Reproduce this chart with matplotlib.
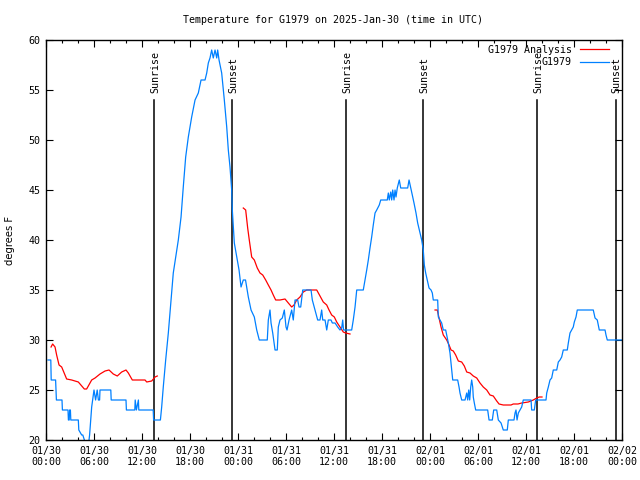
import numpy as np
import matplotlib
matplotlib.use("Agg")
import matplotlib.pyplot as plt

plt.rcParams['font.family'] = ['DejaVu Sans Mono']

# Observed series G1979 (hours since 2025-01-30 00:00 UTC, deg F)
obs_hours = [0.25, 0.6, 0.65, 1.2, 1.3, 2.0, 2.05, 2.75, 2.8, 2.9, 2.95, 3.05, 3.1, 4.04, 4.1, 4.46, 4.6, 4.8,
             5.0, 5.3, 5.45, 5.71, 6.0, 6.2, 6.4, 6.55, 6.7, 6.75, 8.1, 8.15, 10.0, 10.05, 11.1, 11.15, 11.3,
             11.55, 11.6, 13.4, 13.45, 14.3,
             14.46, 14.66, 14.96, 15.29, 15.63, 15.91, 16.21, 16.54, 16.88, 17.16, 17.46, 17.79, 18.21, 18.63,
             19.04, 19.38, 19.88, 20.09, 20.29, 20.5, 20.71, 20.91, 21.13, 21.34, 21.46, 21.63, 21.96, 22.29,
             22.59, 22.79, 23.0, 23.21, 23.29, 23.54, 23.84, 24.13, 24.38, 24.66, 24.94, 25.29, 25.63, 26.04,
             26.34, 26.66, 27.66, 27.79, 28.0, 28.13, 28.34, 28.63, 28.91, 29.04, 29.25, 29.54, 29.79, 30.0,
             30.13, 30.38, 30.71, 30.91, 31.13, 31.46, 31.63, 31.84, 32.09, 33.13, 33.29, 33.63, 33.96, 34.25,
             34.46, 34.59, 34.88, 35.09, 35.29, 35.63, 35.79, 36.13, 36.46, 36.75, 36.96, 37.09, 37.19, 37.5,
             38.21, 38.41, 38.63, 38.84, 39.66, 39.88, 40.09, 40.29, 40.5, 40.71, 40.91, 41.13, 41.34, 41.66,
             41.84, 42.66, 42.79, 42.91, 43.09, 43.21, 43.34, 43.5, 43.63, 43.75, 43.91, 44.16, 44.34, 45.21,
             45.38, 45.59, 45.84, 46.0, 46.25, 46.46, 46.75, 46.96, 47.16, 47.29, 47.46, 47.71, 47.88, 48.13,
             48.29, 48.41, 48.96, 49.04, 49.25, 49.46, 49.66, 49.96, 50.09, 50.29, 50.5, 50.63, 50.71, 50.84,
             51.46, 51.63, 51.75, 51.96, 52.38, 52.59, 52.71, 52.84, 52.96, 53.09, 53.21, 53.34, 53.41, 53.54,
             53.71, 55.21, 55.38, 55.79, 55.96, 56.34, 56.54, 56.88, 57.16, 57.66, 57.79, 58.5, 58.63, 58.75,
             58.88, 59.04, 59.25, 59.46, 59.66, 60.63, 60.71, 61.04, 61.21, 62.5, 62.59, 62.79, 63.0, 63.21,
             63.41, 63.84, 64.04, 64.25, 64.46, 64.66, 65.16, 65.29, 65.5, 65.71, 65.91, 66.04, 66.25, 66.41,
             68.41, 68.63, 68.91, 69.16, 69.88, 70.0, 70.16, 72.0]
obs_temps = [28, 28, 26, 26, 24, 24, 23, 23, 22, 22, 23, 23, 22, 22, 21, 20.5, 20.5, 20,
             19.5, 19.5, 20.5, 23.3, 25, 24, 25, 24, 24, 25, 25, 24, 24, 23, 23, 24, 23,
             24, 23, 23, 22, 22,
             23.3, 25.3, 28, 30.7, 34, 36.7, 38.3, 40, 42.3, 45.3, 48.3, 50.3, 52.3, 54,
             54.7, 56, 56, 56.7, 57.7, 58.2, 59, 58.2, 59, 58.2, 59, 58, 56.7, 54,
             51.3, 49, 47.3, 45, 43, 39.7, 38.3, 37, 35.3, 36, 36, 34.3, 33, 32.3,
             31, 30, 30, 32, 33, 31.7, 30.7, 29, 29, 31.3, 32, 32.2, 33, 31.3,
             31, 32, 33, 32, 34, 34, 33.3, 33.3, 35, 35, 34, 33, 32, 32,
             33, 32, 32, 31, 32, 32, 31.7, 31.7, 31.3, 31, 31.2, 32, 31, 31,
             31, 32, 33.3, 35, 35, 36, 37, 38, 39.2, 40.3, 41.5, 42.7, 43, 43.5,
             44, 44, 44.7, 44, 44.8, 44, 45, 44, 45, 44.3, 45.2, 46, 45.2, 45.2,
             46, 45.2, 44.3, 43.7, 42.7, 41.7, 40.7, 40, 39, 37.5, 36.7, 35.8, 35.2, 35,
             34.7, 34, 34, 32.3, 32, 31.7, 31, 31, 30.5, 29.7, 28.7, 27.7, 27, 26,
             26, 25.3, 24.7, 24, 24, 24.7, 24, 25, 24, 25.3, 26, 25.3, 24.3, 23.7,
             23, 23, 22, 22, 23, 23, 22, 21.7, 21, 21, 22, 22, 22.7, 23,
             22, 22.7, 23, 23.3, 24, 24, 23, 23, 24, 24, 24.7, 25.3, 26, 26.2,
             27, 27, 27.8, 28, 28.3, 29, 29, 29.7, 30.7, 31, 31.3, 31.8, 32.3, 33,
             33, 32.2, 32, 31, 31, 30.5, 30, 30]

# Analysis series (three separate segments)
ana1_hours = [0.63, 0.83, 1.13, 1.33, 1.63, 1.96, 2.58, 3.21, 4.04, 4.79, 5.08, 5.71, 6.13, 6.75, 7.38,
              7.88, 8.41, 8.91, 9.46, 10.0, 10.29, 10.79, 12.38, 12.59, 13.21, 13.63, 13.91]
ana1_temps = [29.3, 29.6, 29.3, 28.5, 27.5, 27.3, 26.1, 26.0, 25.8, 25.1, 25.1, 26.0, 26.2, 26.6, 26.9,
              27.0, 26.6, 26.4, 26.8, 27.0, 26.7, 26.0, 26.0, 25.8, 25.9, 26.3, 26.4]
ana2_hours = [24.66, 24.96, 25.21, 25.41, 25.71, 26.04, 26.41, 26.75, 27.09, 27.46, 27.79, 28.13, 28.41,
              28.71, 29.25, 29.88, 30.29, 30.71, 31.0, 31.34, 31.75, 32.16, 32.59, 33.84, 34.25, 34.66,
              35.09, 35.38, 35.71, 36.04, 36.34, 36.75, 37.16, 37.46, 38.0]
ana2_temps = [43.2, 43.0, 41.2, 40.0, 38.3, 38.0, 37.2, 36.7, 36.5, 36.0, 35.5, 35.0, 34.5,
              34.0, 34.0, 34.1, 33.7, 33.3, 33.5, 34.0, 34.3, 34.8, 35.0, 35.0, 34.4, 33.8,
              33.5, 33.0, 32.5, 32.3, 31.8, 31.3, 30.8, 30.7, 30.6]
ana3_hours = [48.63, 48.91, 49.13, 49.38, 49.66, 50.09, 50.38, 50.63, 50.91, 51.21, 51.54, 51.96, 52.29,
              52.59, 53.0, 53.41, 53.84, 54.25, 54.66, 55.09, 55.5, 55.91, 56.34, 56.63, 57.16, 58.13,
              58.41, 59.0, 59.46, 60.29, 60.91, 61.34, 61.66, 62.0]
ana3_temps = [33.0, 33.0, 32.2, 31.3, 30.5, 30.0, 29.5, 29.0, 28.9, 28.5, 27.9, 27.8, 27.4,
              26.8, 26.7, 26.4, 26.2, 25.7, 25.3, 25.0, 24.5, 24.4, 23.9, 23.6, 23.5, 23.5,
              23.6, 23.6, 23.7, 23.8, 24.0, 24.2, 24.3, 24.3]

sunrise_hours = [13.55, 37.5, 61.4]
sunset_hours = [23.3, 47.15, 71.2]

xtick_hours = [0, 6, 12, 18, 24, 30, 36, 42, 48, 54, 60, 66, 72]
xtick_labels = ["01/30\n00:00", "01/30\n06:00", "01/30\n12:00", "01/30\n18:00",
                "01/31\n00:00", "01/31\n06:00", "01/31\n12:00", "01/31\n18:00",
                "02/01\n00:00", "02/01\n06:00", "02/01\n12:00", "02/01\n18:00",
                "02/02\n00:00"]
ytick_vals = [20, 25, 30, 35, 40, 45, 50, 55, 60]

title = "Temperature for G1979 on 2025-Jan-30 (time in UTC)"

fig = plt.figure(figsize=(6.4, 4.8), dpi=100)
ax = fig.add_axes([46/640, 1 - 440/480, 576/640, 400/480])

RED = '#ff0000'
BLUE = '#0080ff'
FS = 7.2

ax.plot(ana1_hours, ana1_temps, color=RED, lw=0.9, label='G1979 Analysis')
ax.plot(ana2_hours, ana2_temps, color=RED, lw=0.9)
ax.plot(ana3_hours, ana3_temps, color=RED, lw=0.9)
ax.plot(obs_hours, obs_temps, color=BLUE, lw=0.9, label='G1979')

for h in sunrise_hours:
    ax.plot([h, h], [20, 54], color='black', lw=1.1, zorder=1)
    ax.text(h + 0.15, 54.7, 'Sunrise', rotation=90, ha='center', va='bottom', fontsize=FS)
for h in sunset_hours:
    ax.plot([h, h], [20, 54], color='black', lw=1.1, zorder=1)
    ax.text(h + 0.15, 54.7, 'Sunset', rotation=90, ha='center', va='bottom', fontsize=FS)

ax.set_xlim(0, 72)
ax.set_ylim(20, 60)
ax.set_xticks(xtick_hours)
ax.set_xticklabels(xtick_labels, fontsize=FS)
ax.set_xticks(np.arange(0, 73, 2), minor=True)
ax.set_yticks(ytick_vals)
ax.set_yticklabels([str(v) for v in ytick_vals], fontsize=FS)
ax.tick_params(which='both', direction='in', top=True, right=True, width=0.8)
ax.tick_params(which='major', length=5, pad=4)
ax.tick_params(which='minor', length=2.5)
for s in ax.spines.values():
    s.set_linewidth(1.0)

ax.set_ylabel('degrees F', fontsize=FS, family='DejaVu Sans', labelpad=10)
fig.text(333/640, 1 - 20/480, title, ha='center', va='center', fontsize=FS)

leg = ax.legend(loc='upper right', markerfirst=False, frameon=False, fontsize=FS,
                handlelength=2.9, handletextpad=0.8, borderaxespad=0.1, labelspacing=0.25,
                bbox_to_anchor=(1 - 8/576, 1.0))

fig.savefig('out.png', dpi=100)
